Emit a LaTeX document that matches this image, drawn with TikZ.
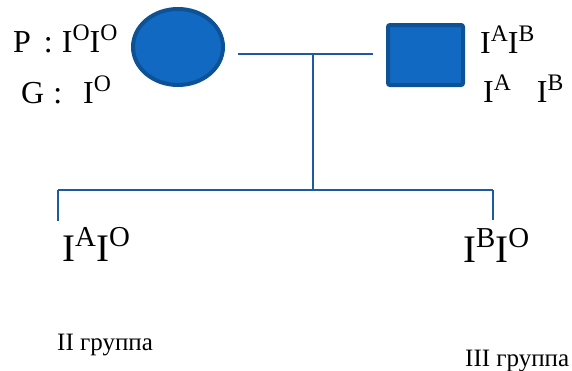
\documentclass[tikz,border=0pt]{standalone}
\usepackage{fontspec}
\usepackage{graphicx}
\setmainfont{Liberation Serif}
\usetikzlibrary{shapes.geometric}
\definecolor{blueFill}{RGB}{17,105,194}
\definecolor{blueEdge}{RGB}{14,82,150}
\definecolor{lineBlue}{RGB}{30,90,162}
\newcommand\up[1]{\raisebox{0.37em}{\scalebox{0.74}{#1}}}
\tikzset{
  person/.style={fill=blueFill, draw=blueEdge, line width=4pt, inner sep=0pt},
  link/.style={draw=lineBlue, line width=1.6pt},
  big/.style={anchor=base west, inner sep=0pt, font=\fontsize{32}{36}\selectfont},
  huge/.style={anchor=base west, inner sep=0pt, font=\fontsize{39}{44}\selectfont},
  small/.style={anchor=base west, inner sep=0pt, font=\fontsize{25}{28}\selectfont},
}
\begin{document}
\begin{tikzpicture}[x=1pt,y=-1pt]
\useasboundingbox (0,0) rectangle (572,370);
% parents
\node[person, ellipse, minimum width=90pt, minimum height=76pt] (mother) at (178,47) {};
\node[person, rectangle, rounded corners=2pt, minimum width=75pt, minimum height=60pt] (father) at (425.5,55) {};
% genotype texts
\node[big] (pl) at (13,52) {P\hspace{13pt}:\hspace{9pt}I\up{O}I\up{O}};
\node[big] (gl) at (21,103) {G\hspace{9pt}:\hspace{21pt}I\up{O}};
\node[big] (pr) at (480,53) {I\up{A}I\up{B}};
\node[big] (gr) at (483,102) {I\up{A}\hspace{26pt}I\up{B}};
% children
\node[huge] (c1) at (62,261) {I\up{A}I\up{O}};
\node[huge] (c2) at (463,262) {I\up{B}I\up{O}};
\node[small] (g1) at (57,350) {II группа};
\node[small] (g2) at (465,366) {III группа};
% connectors
\coordinate (mL) at (238,54);
\coordinate (mR) at (373,54);
\coordinate (mid) at (313,54);
\coordinate (bot) at (313,190);
\coordinate (bL) at (58,190);
\coordinate (bR) at (493,190);
\coordinate (dL) at (58,221);
\coordinate (dR) at (493,220);
\draw[link] (mL) -- (mR);
\draw[link] (mid) -- (bot);
\draw[link] (bL) -- (bR);
\draw[link] (bL) -- (dL);
\draw[link] (bR) -- (dR);
\end{tikzpicture}
\end{document}
